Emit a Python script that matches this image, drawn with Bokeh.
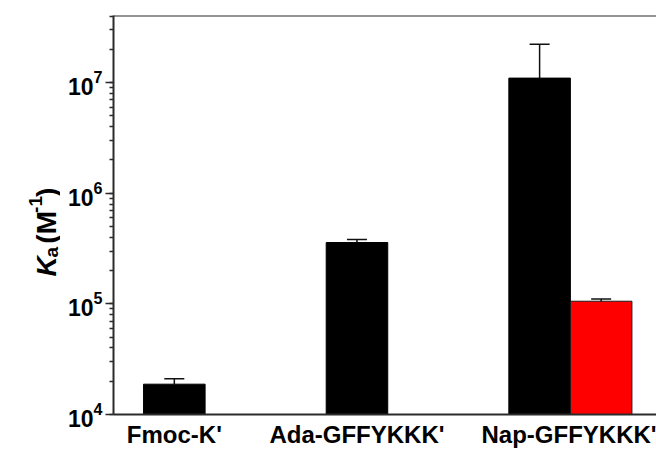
import math
from bokeh.plotting import figure
from bokeh.layouts import row
from bokeh.models import (Range1d, FixedTicker, Whisker, TeeHead, ColumnDataSource,
                          Span, LogTicker, Label)
from bokeh.embed import file_html
from bokeh.resources import INLINE

# ---- data ----
categories = ["Fmoc-K'", "Ada-GFFYKKK'", "Nap-GFFYKKK'"]
black_vals = [1.88e4, 3.59e5, 1.10e7]
black_errs = [0.23e4, 0.23e5, 1.13e7]
red_cats = ["Nap-GFFYKKK'"]
red_vals = [1.057e5]
red_errs = [0.05e5]

y_min, y_max = 1e4, 4.05e7
bar_w = 0.337
pos = {c: i + 1 for i, c in enumerate(categories)}

FONT = "Liberation Sans"
AXC = "#2b2b2b"
W, H = 656, 450
LW = 60  # width of the strip holding the y-axis title

p = figure(width=W - LW, height=H, output_backend="svg", toolbar_location=None,
           y_axis_type="log", x_range=Range1d(0.667, 3.64), y_range=Range1d(y_min, y_max),
           min_border_left=113 - LW, min_border_right=0, min_border_top=15, min_border_bottom=32)
p.grid.visible = False
p.outline_line_color = None
p.background_fill_color = "white"
p.border_fill_color = "white"

# black bars
bx = [pos[c] for c in categories]
src_b = ColumnDataSource(dict(x=bx, top=black_vals, bottom=[y_min] * 3,
                              lower=black_vals,
                              upper=[v + e for v, e in zip(black_vals, black_errs)]))
p.vbar(x="x", top="top", bottom="bottom", width=bar_w, source=src_b,
       fill_color="#000000", line_color="#000000", line_width=1)

# red bars (second series, right of black bar in the group)
rx = [pos[c] + bar_w for c in red_cats]
src_r = ColumnDataSource(dict(x=rx, top=red_vals, bottom=[y_min] * len(red_vals),
                              lower=[v - e for v, e in zip(red_vals, red_errs)],
                              upper=[v + e for v, e in zip(red_vals, red_errs)]))
p.vbar(x="x", top="top", bottom="bottom", width=bar_w, source=src_r,
       fill_color="#ff0000", line_color="#1a1a1a", line_width=1)

wb = Whisker(base="x", lower="lower", upper="upper", source=src_b,
             line_color="#111111", line_width=1.5,
             upper_head=TeeHead(size=20, line_color="#111111", line_width=1.5),
             lower_head=None)
wr = Whisker(base="x", lower="lower", upper="upper", source=src_r,
             line_color="#111111", line_width=1.5,
             upper_head=TeeHead(size=20, line_color="#111111", line_width=1.5),
             lower_head=TeeHead(size=20, line_color="#111111", line_width=1.5))
p.add_layout(wb)
p.add_layout(wr)

# top frame line
p.add_layout(Span(location=y_max, dimension="width", line_color=AXC, line_width=2))

# y axis
ya = p.yaxis[0]
ya.ticker = LogTicker(num_minor_ticks=10)
ya.axis_line_width = 2
ya.axis_line_color = AXC
ya.major_tick_in = 0
ya.minor_tick_in = 0
ya.major_tick_out = 8
ya.minor_tick_out = 4
ya.major_tick_line_width = 1.6
ya.minor_tick_line_width = 1.5
ya.major_tick_line_color = AXC
ya.minor_tick_line_color = AXC
ya.major_label_text_font = FONT
ya.major_label_text_font_style = "bold"
ya.major_label_text_font_size = "23px"
ya.major_label_text_color = "black"
ya.major_label_standoff = 3

# x axis
group_centers = [pos[c] + (bar_w / 2 if c in red_cats else 0) for c in categories]
xa = p.xaxis[0]
xa.ticker = FixedTicker(ticks=group_centers)
xa.major_label_overrides = {g: c for g, c in zip(group_centers, categories)}
xa.major_tick_out = 0
xa.major_tick_in = 0
xa.minor_tick_out = 0
xa.minor_tick_in = 0
xa.axis_line_width = 2
xa.axis_line_color = AXC
xa.major_label_text_font = FONT
xa.major_label_text_font_style = "bold"
xa.major_label_text_font_size = "24px"
xa.major_label_text_color = "black"
xa.major_label_standoff = 6

# ---- strip with the y-axis title: K_a (M^-1) from rotated pieces ----
lf = figure(width=LW, height=H, output_backend="svg", toolbar_location=None,
            x_range=Range1d(0, LW), y_range=Range1d(0, H),
            min_border_left=0, min_border_right=0, min_border_top=0, min_border_bottom=0)
lf.axis.visible = False
lf.grid.visible = False
lf.outline_line_color = None
lf.border_fill_color = "white"

F, S = 28, 19
adv = {"K": 0.722, "a": 0.556, " ": 0.278, "(": 0.333, "M": 0.833, "-": 0.333,
       "1": 0.556, ")": 0.333}
# (text, size, style, baseline shift, gap before)
pieces = [("K", F, "bold italic", 0, 0), ("a", S, "bold", 5, 0),
          ("(M", F, "bold", 0, 0.278 * F), ("-1", S, "bold", -11, 0), (")", F, "bold", 0, 0)]
total = sum(sum(adv[ch] for ch in t) * fs + g for t, fs, _, _, g in pieces)
base_x = 46
center_y = H - 243
y = center_y - total / 2
for t, fs, style, shift, gap in pieces:
    y += gap + sum(adv[ch] for ch in t) * fs
    # anchored at the end of each piece (text reads bottom-to-top)
    lf.add_layout(Label(x=base_x + shift, y=y, text=t, angle=math.pi / 2,
                        text_font=FONT, text_font_style=style,
                        text_font_size=f"{fs}px", text_color="black",
                        text_align="right", text_baseline="alphabetic"))

layout = row(lf, p, spacing=0)
open("out.html", "w").write(file_html(layout, INLINE))
